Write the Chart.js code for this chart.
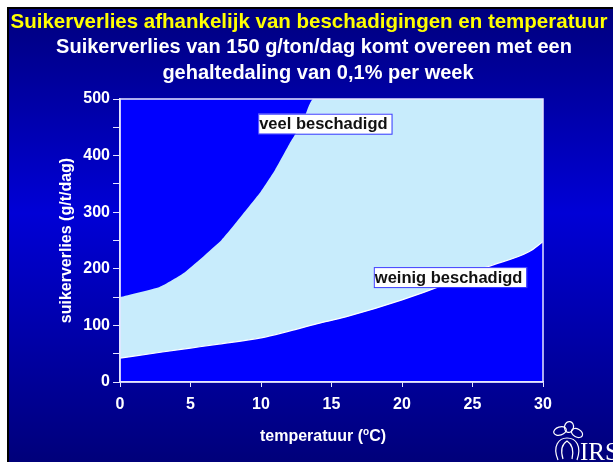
<!DOCTYPE html>
<html>
<head>
<meta charset="utf-8">
<script src="https://cdn.jsdelivr.net/npm/chart.js@4.4.1/dist/chart.umd.min.js"></script>
<style>
  html, body { margin: 0; padding: 0; background: #fff; }
  #wrap { width: 613px; height: 462px; position: relative; }
</style>
</head>
<body>
<div id="wrap"><canvas id="chart" width="613" height="462"></canvas></div>
<script>
// ---- data ----
const tempVeel = [0, 2.8, 4.6, 7.2, 8.5, 10, 11, 12, 13, 13.7, 20, 30];
const veelBeschadigd = [150, 168, 194, 251, 290, 337, 375, 420, 462, 500, 500, 500];
const tempWeinig = [0, 3, 5, 7, 10, 12, 14, 16, 20, 23, 26, 29, 30];
const weinigBeschadigd = [42, 53, 60, 67, 78, 90, 103, 115, 145, 172, 203, 230, 248];
const yTicks = [0, 100, 200, 300, 400, 500];
const xTicks = [0, 5, 10, 15, 20, 25, 30];

const labelTexts = ["veel beschadigd", "weinig beschadigd"];
const labelX = [9.8, 18];
const labelY = [474, 203];

const titleText = "Suikerverlies afhankelijk van beschadigingen en temperatuur";
const subtitleLines = ["Suikerverlies van 150 g/ton/dag komt overeen met een", "gehaltedaling van 0,1% per week"];

const FONT = "'Liberation Sans', Arial, sans-serif";
const PLOT_BLUE = "#0000ff";
const LIGHT = "#c8ecfc";

// slide background, titles, plot frame, labels, logo
const slidePlugin = {
  id: "slide",
  beforeDraw(chart) {
    const ctx = chart.ctx;
    const W = chart.width, H = chart.height;
    ctx.save();
    ctx.fillStyle = "#fff";
    ctx.fillRect(0, 0, W, H);
    ctx.fillStyle = "#000";
    ctx.fillRect(7, 7, W - 7, H - 7);
    const g = ctx.createLinearGradient(0, 9, 0, H);
    g.addColorStop(0, "#00007e");
    g.addColorStop(0.45, "#0000d6");
    g.addColorStop(1, "#00007a");
    ctx.fillStyle = g;
    ctx.fillRect(9, 9, W - 9, H - 9);

    // plot background
    const a = chart.chartArea;
    ctx.fillStyle = PLOT_BLUE;
    ctx.fillRect(a.left, a.top, a.right - a.left, a.bottom - a.top);

    // titles
    ctx.textAlign = "center";
    ctx.textBaseline = "middle";
    ctx.fillStyle = "#ffff00";
    ctx.font = "bold 20.5px " + FONT;
    ctx.fillText(titleText, 309, 22);
    ctx.fillStyle = "#fff";
    ctx.font = "bold 20px " + FONT;
    ctx.fillText(subtitleLines[0], 314, 47);
    ctx.fillText(subtitleLines[1], 318, 73);
    ctx.restore();
  },
  afterDraw(chart) {
    const ctx = chart.ctx;
    const a = chart.chartArea;
    const xs = chart.scales.x, ys = chart.scales.y;
    ctx.save();
    // frame
    ctx.strokeStyle = "#e6e6ff";
    ctx.lineWidth = 1.5;
    ctx.strokeRect(a.left, a.top, a.right - a.left, a.bottom - a.top);

    // boxed labels
    ctx.font = "bold 16.5px " + FONT;
    ctx.textAlign = "left";
    ctx.textBaseline = "middle";
    labelTexts.forEach((t, i) => {
      const px = xs.getPixelForValue(labelX[i]);
      const py = ys.getPixelForValue(labelY[i]);
      const w = ctx.measureText(t).width + 5;
      ctx.fillStyle = "#fff";
      ctx.fillRect(px, py, w, 20);
      ctx.strokeStyle = "#3b3bff";
      ctx.lineWidth = 1;
      ctx.strokeRect(px + 0.5, py + 0.5, w, 20);
      ctx.fillStyle = "#111";
      ctx.fillText(t, px + 1, py + 11);
    });

    // x axis title with superscript o
    const cx = 323, cy = 437;
    ctx.fillStyle = "#fff";
    const p1 = "temperatuur (", p3 = "C)";
    ctx.font = "bold 16px " + FONT;
    const w1 = ctx.measureText(p1).width, w3 = ctx.measureText(p3).width;
    ctx.font = "bold 10px " + FONT;
    const w2 = ctx.measureText("o").width;
    const x0 = cx - (w1 + w2 + w3) / 2;
    ctx.font = "bold 16px " + FONT;
    ctx.fillText(p1, x0, cy);
    ctx.font = "bold 10px " + FONT;
    ctx.fillText("o", x0 + w1, cy - 5);
    ctx.font = "bold 16px " + FONT;
    ctx.fillText(p3, x0 + w1 + w2, cy);

    // IRS logo
    ctx.strokeStyle = "#fff";
    ctx.lineWidth = 1.2;
    const petal = (x, y, rx, ry, rot) => {
      ctx.beginPath();
      ctx.ellipse(x, y, rx, ry, rot, 0, Math.PI * 2);
      ctx.stroke();
    };
    petal(560, 431, 6.5, 4, -0.3);
    petal(569, 427, 4.5, 5.5, 0.2);
    petal(577, 433, 6, 4, 0.5);
    ctx.beginPath();
    ctx.moveTo(558, 460);
    ctx.bezierCurveTo(552, 446, 559, 438, 567, 438);
    ctx.bezierCurveTo(576, 438, 582, 446, 577, 460);
    ctx.stroke();
    ctx.beginPath();
    ctx.moveTo(563, 459);
    ctx.quadraticCurveTo(559, 446, 567, 441);
    ctx.quadraticCurveTo(575, 446, 572, 459);
    ctx.stroke();
    ctx.fillStyle = "#fff";
    ctx.font = "25px 'Liberation Serif', 'Times New Roman', serif";
    ctx.textAlign = "left";
    ctx.textBaseline = "alphabetic";
    ctx.fillText("IRS", 580, 460);
    ctx.restore();
  }
};

const toPoints = (xs, ys) => xs.map((x, i) => ({ x, y: ys[i] }));

new Chart(document.getElementById("chart"), {
  type: "line",
  data: {
    datasets: [
      {
        label: "weinig beschadigd",
        data: toPoints(tempWeinig, weinigBeschadigd),
        borderColor: "#ffffff",
        borderWidth: 1.2,
        pointRadius: 0,
        fill: false,
        cubicInterpolationMode: "monotone"
      },
      {
        label: "veel beschadigd",
        data: toPoints(tempVeel, veelBeschadigd),
        borderColor: LIGHT,
        borderWidth: 0,
        backgroundColor: LIGHT,
        pointRadius: 0,
        fill: "-1",
        tension: 0.15
      }
    ]
  },
  options: {
    responsive: false,
    animation: false,
    events: [],
    layout: { padding: { top: 99, right: 70, left: 0, bottom: 0 } },
    plugins: { legend: { display: false }, tooltip: { enabled: false } },
    scales: {
      x: {
        type: "linear",
        min: 0,
        max: 30,
        afterBuildTicks: s => { s.ticks = xTicks.map(v => ({ value: v })); },
        afterFit: s => { s.height = 80; },
        ticks: {
          color: "#fff",
          font: { family: FONT, size: 16, weight: "bold" },
          padding: 8,
          maxRotation: 0
        },
        grid: { drawOnChartArea: false, drawTicks: true, tickLength: 5, color: "#e6e6ff" },
        border: { display: true, color: "#e6e6ff", width: 1.5 }
      },
      y: {
        min: 0,
        max: 500,
        afterFit: s => { s.width = 120; },
        ticks: {
          stepSize: 50,
          color: "#fff",
          font: { family: FONT, size: 16, weight: "bold" },
          padding: 3,
          callback: v => (yTicks.includes(v) ? String(v) : "")
        },
        grid: { drawOnChartArea: false, drawTicks: true, tickLength: 7, color: "#e6e6ff" },
        border: { display: true, color: "#e6e6ff", width: 1.5 },
        title: {
          display: true,
          text: "suikerverlies (g/t/dag)",
          color: "#fff",
          font: { family: FONT, size: 16, weight: "bold" },
          padding: { top: 57, bottom: 0 }
        }
      }
    }
  },
  plugins: [slidePlugin]
});
</script>
</body>
</html>
